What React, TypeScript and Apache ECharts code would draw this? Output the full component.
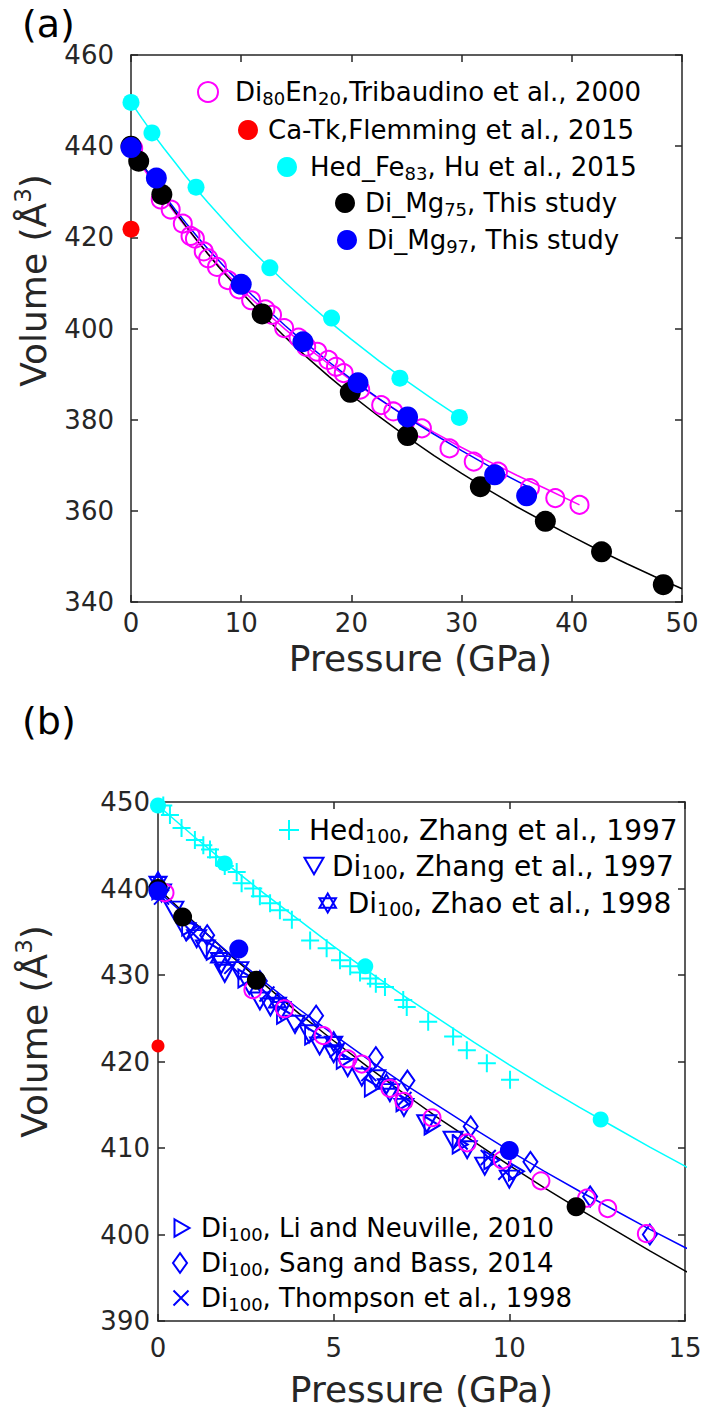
import React, { useEffect, useRef } from 'react';
import * as echarts from 'echarts';

const FONT = 'DejaVu Sans';
const AX = '#262626';

// ---------- shared datasets: [pressure (GPa), volume (Å3)] ----------
const di80en20Tribaudino = [
  [0.2, 439.5], [2.7, 428.3], [3.6, 426.1], [4.7, 423.0], [5.4, 420.3], [5.8, 419.7], [6.6, 416.9],
  [7.0, 415.4], [7.8, 413.5], [8.8, 410.6], [9.8, 408.6], [10.9, 406.2], [12.2, 404.2], [12.8, 403.0],
  [13.9, 400.1], [15.2, 398.0], [15.9, 396.0], [16.9, 394.9], [17.9, 393.1], [18.6, 391.6], [19.3, 390.2],
  [20.8, 386.6], [22.7, 383.2], [23.8, 381.8], [26.4, 378.1], [28.9, 373.7], [31.1, 370.8], [33.3, 368.6],
  [36.2, 365.0], [38.5, 362.8], [40.7, 361.3],
];
const caTkFlemming = [[0, 421.8]];
const hedFe83Hu = [[0, 449.6], [1.9, 442.9], [5.9, 431.0], [12.6, 413.3], [18.2, 402.3], [24.4, 389.1], [29.8, 380.5]];
const diMg75 = [
  [0, 440.0], [0.7, 436.7], [2.8, 429.4], [11.9, 403.2], [19.9, 386.0], [25.1, 376.5], [31.7, 365.3],
  [37.6, 357.7], [42.7, 351.0], [48.3, 343.8],
];
const diMg97 = [[0, 439.7], [2.3, 433.0], [10.0, 409.7], [15.6, 397.1], [20.6, 388.1], [25.1, 380.6], [33.0, 367.9], [35.9, 363.3]];

// ---------- fitted EoS curves ----------
const fitBlackP = [0, 1, 2, 3, 4, 5, 6, 7, 8, 9, 10, 11, 12, 13, 14, 15, 16, 18, 20, 22.5, 25, 27.5, 30, 32.5, 35, 37.5, 40, 42.5, 45, 47.5, 50];
const fitBlackV = [440.0, 436.2, 432.5, 429.0, 425.6, 422.4, 419.3, 416.3, 413.4, 410.7, 408.0, 405.4, 402.9, 400.5, 398.1, 395.8, 393.6, 389.4, 385.4, 380.7, 376.3, 372.1, 368.2, 364.5, 360.9, 357.6, 354.4, 351.3, 348.4, 345.6, 342.9];
const fitBlueP = [0, 1, 2, 3, 4, 5, 6, 7, 8, 9, 10, 11, 12, 13, 14, 15, 16, 18, 20, 22.5, 25, 27.5, 30, 33, 36];
const fitBlueV = [439.7, 436.1, 432.6, 429.3, 426.1, 423.1, 420.2, 417.4, 414.8, 412.2, 409.7, 407.3, 405.0, 402.8, 400.6, 398.5, 396.5, 392.6, 388.9, 384.6, 380.5, 376.8, 373.2, 369.1, 365.3];
const fitCyanP = [0, 1, 2, 3, 4, 5, 6, 7, 8, 9, 10, 11, 12, 13, 14, 15, 16, 18, 20, 22.5, 25, 27.5, 30];
const fitCyanV = [449.6, 446.1, 442.7, 439.5, 436.4, 433.3, 430.4, 427.6, 424.9, 422.2, 419.6, 417.1, 414.7, 412.4, 410.1, 407.9, 405.7, 401.5, 397.6, 392.9, 388.5, 384.3, 380.3];
const fitMagentaP = [0, 1, 2, 3, 4, 5, 6, 7, 8, 10, 12, 14, 16, 18, 20, 22.5, 25, 27.5, 30, 32.5, 35, 37.5, 40.7];
const fitMagentaV = [439.5, 435.6, 432.0, 428.5, 425.3, 422.2, 419.2, 416.4, 413.7, 408.7, 404.1, 399.8, 395.8, 392.1, 388.6, 384.5, 380.7, 377.2, 373.9, 370.8, 367.8, 365.0, 361.3];

// ---------- panel (b) literature data ----------
const hed100Zhang = [
  [0.15, 449.6], [0.34, 448.5], [0.67, 447.0], [1.05, 445.6], [1.29, 445.0], [1.48, 444.5], [1.65, 443.6],
  [1.9, 442.6], [2.24, 441.9], [2.38, 440.6], [2.71, 440.0], [2.9, 439.1], [3.19, 438.3], [3.47, 437.5],
  [3.81, 436.4], [4.33, 434.0], [4.8, 433.1], [5.18, 431.7], [5.47, 431.0], [5.75, 430.3], [6.04, 429.6],
  [6.2, 429.0], [6.46, 428.6], [6.98, 427.1], [7.08, 426.3], [7.69, 424.6], [8.4, 422.9], [8.79, 421.3],
  [9.36, 419.8], [10.02, 417.9],
];
const di100Zhang = [
  [0.1, 439.5], [0.45, 437.5], [0.8, 435.0], [1.1, 434.2], [1.35, 433.0], [1.8, 431.2], [1.9, 430.2],
  [2.3, 430.5], [2.6, 428.8], [2.9, 427.0], [3.2, 426.3], [3.5, 425.9], [3.9, 424.3], [4.3, 423.2],
  [4.6, 421.8], [5.0, 420.9], [5.4, 419.3], [5.8, 418.2], [6.2, 418.0], [6.6, 416.4], [7.0, 414.7],
  [7.65, 412.8], [8.4, 410.9], [8.8, 409.8], [9.3, 407.9], [10.0, 406.4],
];
const di100Zhao = [[0.0, 440.8], [1.75, 432.0], [3.4, 426.8], [5.0, 422.3], [6.5, 417.4]];
const di100Li = [
  [0.05, 439.8], [0.9, 435.6], [1.6, 432.8], [2.5, 429.6], [3.6, 425.4], [4.4, 423.0], [5.3, 420.2],
  [6.1, 417.0], [7.0, 415.3], [7.8, 412.6], [8.6, 410.4], [9.5, 408.6], [10.2, 407.3],
];
const di100Sang = [[0.0, 440.5], [1.4, 434.6], [2.9, 429.3], [4.5, 425.3], [6.2, 420.5], [7.1, 417.8], [8.9, 412.5], [10.6, 408.4], [12.3, 404.4], [14.0, 400.0]];
const di100Thompson = [[0.1, 439.0], [1.0, 434.8], [2.1, 431.0], [3.1, 427.8], [4.1, 424.5], [5.1, 421.3], [6.0, 418.6], [7.0, 415.6], [8.6, 410.7], [9.4, 408.9], [9.9, 407.2]];

// ---------- names / labels ----------
const N_TRIB = 'Di80En20,Tribaudino et al., 2000';
const N_CATK = 'Ca-Tk,Flemming et al., 2015';
const N_HEDFE = 'Hed_Fe83, Hu et al., 2015';
const N_MG75 = 'Di_Mg75, This study';
const N_MG97 = 'Di_Mg97, This study';
const N_HEDZ = 'Hed100, Zhang et al., 1997';
const N_DIZ = 'Di100, Zhang et al., 1997';
const N_ZHAO = 'Di100, Zhao et al., 1998';
const N_LI = 'Di100, Li and Neuville, 2010';
const N_SANG = 'Di100, Sang and Bass, 2014';
const N_THOM = 'Di100, Thompson et al., 1998';

const RICH_LABEL: Record<string, string> = {
  [N_TRIB]: 'Di{s|80}En{s|20},Tribaudino et al., 2000',
  [N_CATK]: 'Ca-Tk,Flemming et al., 2015',
  [N_HEDFE]: 'Hed_Fe{s|83}, Hu et al., 2015',
  [N_MG75]: 'Di_Mg{s|75}, This study',
  [N_MG97]: 'Di_Mg{s|97}, This study',
  [N_HEDZ]: 'Hed{s|100}, Zhang et al., 1997',
  [N_DIZ]: 'Di{s|100}, Zhang et al., 1997',
  [N_ZHAO]: 'Di{s|100}, Zhao et al., 1998',
  [N_LI]: 'Di{s|100}, Li and Neuville, 2010',
  [N_SANG]: 'Di{s|100}, Sang and Bass, 2014',
  [N_THOM]: 'Di{s|100}, Thompson et al., 1998',
};

const SYM_PLUS = 'path://M5,0L5,10M0,5L10,5';
const SYM_X = 'path://M0,0L10,10M10,0L0,10';
const SYM_TRI_DOWN = 'path://M0,0L10,0L5,8.66Z';
const SYM_TRI_RIGHT = 'path://M0,0L8.66,5L0,10Z';
const SYM_STAR = 'path://M5,0L9.33,7.5L0.67,7.5ZM5,10L0.67,2.5L9.33,2.5Z';
const SYM_DIAMOND = 'path://M5,0L10,7L5,14L0,7Z';

const zip = (p: number[], v: number[]) => p.map((x, i) => [x, v[i]]);

function buildOption() {
  const axisLine = { show: true, onZero: false, lineStyle: { color: AX, width: 1.5 } };
  const axisTick = { show: true, inside: true, length: 7, lineStyle: { color: AX, width: 1.5 } };
  const labelStyle = { fontSize: 26, color: AX, fontFamily: FONT };
  const volName = '{n|Volume (Å}{sup|3}{n|)}';
  const volNameStyle = (shift: number) => ({
    color: AX,
    fontFamily: FONT,
    fontSize: 36,
    padding: [0, 0, 0, shift],
    rich: {
      n: { fontSize: 36, lineHeight: 44, color: AX, fontFamily: FONT },
      sup: { fontSize: 23, lineHeight: 20, verticalAlign: 'top', color: AX, fontFamily: FONT },
    },
  });

  const xPair = (gridIndex: number, max: number, interval: number, margin: number, nameGap: number, shift: number) => [
    {
      type: 'value', gridIndex, min: 0, max, interval, position: 'bottom',
      name: 'Pressure (GPa)', nameLocation: 'middle', nameGap,
      nameTextStyle: { fontSize: 36, color: AX, fontFamily: FONT, padding: [0, 0, 0, shift] },
      axisLine, axisTick, axisLabel: { ...labelStyle, margin }, splitLine: { show: false },
    },
    {
      type: 'value', gridIndex, min: 0, max, interval, position: 'top',
      axisLine, axisTick, axisLabel: { show: false }, splitLine: { show: false },
    },
  ];
  const yPair = (gridIndex: number, min: number, max: number, interval: number, margin: number, nameGap: number, shift: number) => [
    {
      type: 'value', gridIndex, min, max, interval, position: 'left',
      name: volName, nameLocation: 'middle', nameGap, nameTextStyle: volNameStyle(shift),
      axisLine, axisTick, axisLabel: { ...labelStyle, margin }, splitLine: { show: false },
    },
    {
      type: 'value', gridIndex, min, max, interval, position: 'right',
      axisLine, axisTick, axisLabel: { show: false }, splitLine: { show: false },
    },
  ];

  const dot = (name: string, data: number[][], ax: number, color: string, size: number) => ({
    type: 'scatter', name, data, xAxisIndex: ax, yAxisIndex: ax, symbol: 'circle', symbolSize: size,
    itemStyle: { color, borderWidth: 0, opacity: 1 },
  });
  const hollow = (name: string, data: number[][], ax: number, color: string, symbol: string, size: any, bw = 2) => ({
    type: 'scatter', name, data, xAxisIndex: ax, yAxisIndex: ax, symbol, symbolSize: size,
    itemStyle: { color: 'transparent', borderColor: color, borderWidth: bw, opacity: 1 },
  });
  const curve = (name: string, data: number[][], ax: number, color: string) => ({
    type: 'line', name, data, xAxisIndex: ax, yAxisIndex: ax, showSymbol: false, symbol: 'none',
    smooth: false, lineStyle: { color, width: 1.5 }, silent: true, z: 2,
  });

  const series: any[] = [
    // panel (a)
    curve('fitA_magenta', zip(fitMagentaP, fitMagentaV), 0, '#ff00ff'),
    curve('fitA_cyan', zip(fitCyanP, fitCyanV), 0, '#00ffff'),
    curve('fitA_black', zip(fitBlackP, fitBlackV), 0, '#000000'),
    curve('fitA_blue', zip(fitBlueP, fitBlueV), 0, '#0000ff'),
    hollow(N_TRIB, di80en20Tribaudino, 0, '#ff00ff', 'circle', 18),
    dot(N_CATK, caTkFlemming, 0, '#ff0000', 17),
    dot(N_HEDFE, hedFe83Hu, 0, '#00ffff', 17),
    dot(N_MG75, diMg75, 0, '#000000', 21),
    dot(N_MG97, diMg97, 0, '#0000ff', 21),
    // panel (b)
    hollow(N_HEDZ, hed100Zhang, 2, '#00ffff', SYM_PLUS, 18),
    hollow(N_DIZ, di100Zhang, 2, '#0000ff', SYM_TRI_DOWN, [19, 17]),
    hollow(N_ZHAO, di100Zhao, 2, '#0000ff', SYM_STAR, [17, 19]),
    hollow(N_LI, di100Li, 2, '#0000ff', SYM_TRI_RIGHT, [15, 18]),
    hollow(N_SANG, di100Sang, 2, '#0000ff', SYM_DIAMOND, [14, 20]),
    hollow(N_THOM, di100Thompson, 2, '#0000ff', SYM_X, 15),
    curve('fitB_cyan', zip(fitCyanP, fitCyanV), 2, '#00ffff'),
    curve('fitB_black', zip(fitBlackP, fitBlackV), 2, '#000000'),
    curve('fitB_blue', zip(fitBlueP, fitBlueV), 2, '#0000ff'),
    hollow(N_TRIB, di80en20Tribaudino, 2, '#ff00ff', 'circle', 17),
    dot(N_CATK, caTkFlemming, 2, '#ff0000', 13),
    dot(N_HEDFE, hedFe83Hu, 2, '#00ffff', 16),
    dot(N_MG75, diMg75, 2, '#000000', 19),
    dot(N_MG97, diMg97, 2, '#0000ff', 19),
  ];

  const legendText = (gap: number, fs: number, ss: number) => ({
    fontSize: fs, color: '#000', fontFamily: FONT, lineHeight: 30,
    rich: {
      g: { width: Math.max(0, gap), height: 1 },
      s: { fontSize: ss, lineHeight: 14, verticalAlign: 'bottom', color: '#000', fontFamily: FONT },
    },
  });
  // [name, icon centre x, text start x, row centre y, icon width, icon height, font size, sub size]
  const legendRows: [string, number, number, number, number, number, number, number][] = [
    [N_TRIB, 207, 234, 92, 20, 20, 26, 18],
    [N_CATK, 248, 268, 130, 20, 20, 26, 18],
    [N_HEDFE, 287, 310, 167, 20, 20, 26, 18],
    [N_MG75, 345, 365, 203, 20, 20, 26, 18],
    [N_MG97, 347, 367, 240, 20, 20, 26, 18],
    [N_HEDZ, 288, 308, 830, 20, 20, 28, 19],
    [N_DIZ, 313, 331, 866, 19, 17, 28, 19],
    [N_ZHAO, 327, 347, 903, 17, 19, 28, 19],
    [N_LI, 181, 200, 1228, 15, 18, 26, 18],
    [N_SANG, 179, 200, 1263, 14, 20, 26, 18],
    [N_THOM, 180, 200, 1298, 15, 15, 26, 18],
  ];
  const legend = legendRows.map(([name, cx, tx, cy, w, h, fs, ss]) => {
    const left = cx - w / 2;
    const gap = tx - (left + w + 5);
    return {
      data: [name], left, top: cy - 15, itemWidth: w, itemHeight: h, padding: 0,
      selectedMode: false,
      formatter: (n: string) => '{g|}' + (RICH_LABEL[n] || n),
      textStyle: legendText(gap, fs, ss),
      itemStyle: { borderWidth: 2 },
    };
  });

  const panelTitle = { fontSize: 38, fontWeight: 'normal', color: '#000', fontFamily: FONT };

  return {
    animation: false,
    backgroundColor: '#ffffff',
    title: [
      { text: '(a)', left: 17, top: 0, textStyle: panelTitle },
      { text: '(b)', left: 17, top: 697, textStyle: panelTitle },
    ],
    grid: [
      { left: 131, top: 55, width: 551, height: 547 },
      { left: 158, top: 802, width: 527, height: 519 },
    ],
    xAxis: [...xPair(0, 50, 10, 8, 38, 28), ...xPair(1, 15, 5, 14, 50, 0)],
    yAxis: [...yPair(0, 340, 460, 20, 17, 76, 96), ...yPair(1, 390, 450, 10, 8, 102, 60)],
    legend,
    series,
  };
}

export default function App() {
  const ref = useRef<HTMLDivElement>(null);
  useEffect(() => {
    const chart = echarts.init(ref.current!, undefined, { renderer: 'svg' });
    chart.setOption(buildOption() as any);
    return () => chart.dispose();
  }, []);
  return (
    <div
      ref={ref}
      style={{ position: 'absolute', left: 0, top: 0, width: 705, height: 1418, background: '#fff' }}
    />
  );
}
